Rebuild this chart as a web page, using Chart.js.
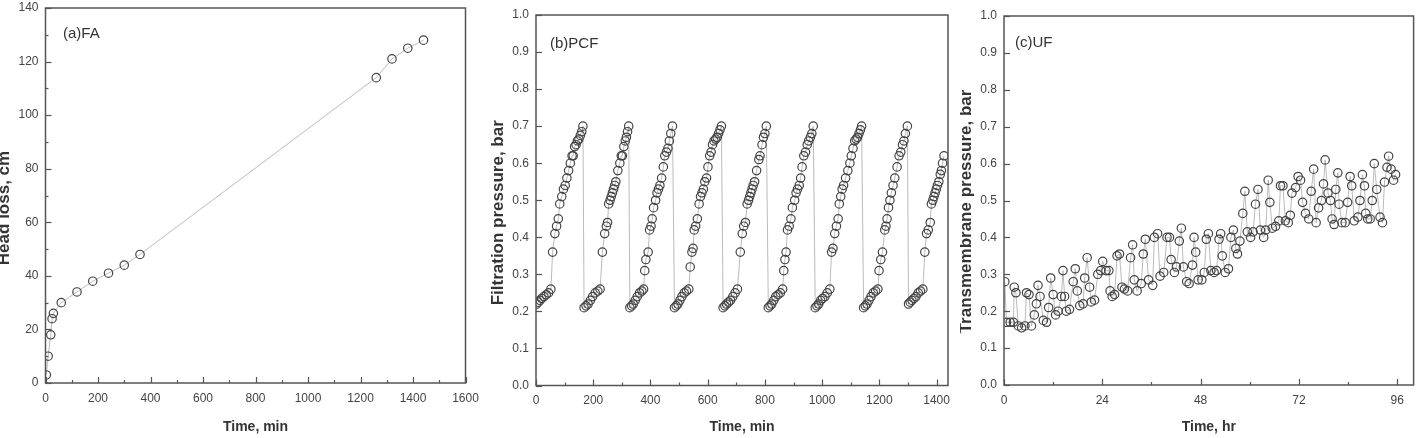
<!DOCTYPE html>
<html>
<head>
<meta charset="utf-8">
<script src="https://cdn.jsdelivr.net/npm/chart.js@4.4.1/dist/chart.umd.min.js"></script>
<style>
  html, body { margin: 0; padding: 0; background: #fff; }
  body { width: 1419px; height: 438px; position: relative; overflow: hidden; }
  .panel { position: absolute; top: 0; height: 438px; }
</style>
</head>
<body>
<div class="panel" style="left:0;width:480px"><canvas id="chartA"></canvas></div>
<div class="panel" style="left:480px;width:480px"><canvas id="chartB"></canvas></div>
<div class="panel" style="left:960px;width:459px"><canvas id="chartC"></canvas></div>
<script>
// (a) FA: head loss vs time
const faTime = [3, 10, 20, 25, 30, 60, 120, 180, 240, 300, 360, 1260, 1320, 1380, 1440];
const faHeadLoss = [3, 10, 18, 24, 26, 30, 34, 38, 41, 44, 48, 114, 121, 125, 128];

// (b) PCF: filtration pressure vs time, one row per filter run
const pcfTime = [
  2, 8, 14, 20, 28, 36, 44, 52, 58, 66, 72, 78, 83, 90, 96, 102, 108, 114, 120, 126, 130, 135, 140, 145, 150, 155, 160, 164,
  168, 175, 182, 190, 198, 207, 216, 224, 232, 240, 246, 250, 254, 259, 263, 267, 271, 275, 279, 286, 293, 298, 302, 307, 312, 316, 320, 324,
  328, 334, 340, 347, 354, 362, 370, 376, 380, 384, 392, 397, 402, 406, 411, 418, 423, 428, 433, 439, 445, 450, 456, 461, 466, 471, 477,
  484, 490, 496, 503, 510, 518, 526, 534, 539, 545, 549, 553, 558, 564, 570, 575, 580, 585, 590, 596, 601, 607, 612, 617, 622, 628, 633, 638, 643, 648,
  654, 660, 666, 673, 680, 688, 696, 704, 714, 721, 726, 732, 738, 743, 747, 751, 755, 759, 764, 771, 779, 783, 790, 795, 800, 805,
  812, 818, 824, 831, 838, 846, 854, 862, 866, 870, 874, 879, 885, 891, 896, 904, 909, 914, 920, 925, 930, 936, 942, 948, 953, 959, 964, 969,
  976, 982, 988, 995, 1002, 1010, 1018, 1027, 1033, 1038, 1044, 1050, 1056, 1060, 1065, 1070, 1075, 1082, 1090, 1097, 1102, 1108, 1114, 1119, 1124, 1129, 1134, 1138,
  1145, 1151, 1157, 1164, 1171, 1179, 1187, 1195, 1199, 1205, 1211, 1219, 1223, 1227, 1232, 1237, 1242, 1248, 1254, 1262, 1269, 1275, 1281, 1286, 1291, 1298,
  1302, 1308, 1314, 1321, 1328, 1336, 1344, 1352, 1359, 1365, 1371, 1378, 1382, 1387, 1391, 1395, 1399, 1403, 1408, 1413, 1417, 1421, 1426
];
const pcfPressure = [
  0.22, 0.225, 0.23, 0.235, 0.24, 0.245, 0.25, 0.26, 0.36, 0.41, 0.43, 0.45, 0.49, 0.51, 0.53, 0.54, 0.56, 0.58, 0.60, 0.62, 0.62, 0.645, 0.65, 0.66, 0.665, 0.675, 0.685, 0.70,
  0.21, 0.215, 0.22, 0.23, 0.24, 0.25, 0.255, 0.26, 0.36, 0.41, 0.43, 0.44, 0.49, 0.50, 0.51, 0.52, 0.53, 0.54, 0.55, 0.58, 0.60, 0.62, 0.62, 0.645, 0.66, 0.67, 0.685, 0.70,
  0.21, 0.215, 0.22, 0.23, 0.24, 0.25, 0.255, 0.26, 0.31, 0.34, 0.36, 0.42, 0.43, 0.45, 0.48, 0.50, 0.52, 0.53, 0.54, 0.56, 0.59, 0.62, 0.63, 0.64, 0.66, 0.68, 0.70,
  0.21, 0.215, 0.22, 0.23, 0.24, 0.25, 0.255, 0.26, 0.32, 0.36, 0.37, 0.42, 0.43, 0.45, 0.49, 0.51, 0.52, 0.53, 0.55, 0.56, 0.59, 0.62, 0.63, 0.65, 0.66, 0.665, 0.67, 0.68, 0.69, 0.70,
  0.21, 0.215, 0.22, 0.225, 0.23, 0.24, 0.25, 0.26, 0.36, 0.41, 0.43, 0.44, 0.49, 0.50, 0.51, 0.52, 0.53, 0.54, 0.55, 0.58, 0.61, 0.62, 0.65, 0.67, 0.68, 0.70,
  0.21, 0.215, 0.22, 0.23, 0.24, 0.245, 0.25, 0.26, 0.31, 0.34, 0.36, 0.42, 0.43, 0.45, 0.48, 0.50, 0.52, 0.53, 0.54, 0.56, 0.59, 0.62, 0.63, 0.65, 0.66, 0.67, 0.68, 0.70,
  0.21, 0.215, 0.22, 0.23, 0.235, 0.24, 0.25, 0.26, 0.36, 0.37, 0.41, 0.43, 0.45, 0.49, 0.51, 0.53, 0.54, 0.56, 0.58, 0.60, 0.62, 0.64, 0.66, 0.665, 0.67, 0.68, 0.69, 0.70,
  0.21, 0.215, 0.22, 0.23, 0.24, 0.25, 0.255, 0.26, 0.31, 0.34, 0.36, 0.42, 0.43, 0.45, 0.48, 0.50, 0.52, 0.54, 0.56, 0.59, 0.62, 0.63, 0.65, 0.66, 0.68, 0.70,
  0.22, 0.225, 0.23, 0.235, 0.24, 0.25, 0.255, 0.26, 0.36, 0.41, 0.42, 0.44, 0.49, 0.50, 0.51, 0.52, 0.53, 0.54, 0.55, 0.57, 0.58, 0.60, 0.62
];

// (c) UF: transmembrane pressure vs time
const ufTime = [
  0.2, 0.6, 1.5, 2.3, 2.5, 2.9, 3.5, 4.3, 5.1, 5.5, 6.1, 6.7, 7.4, 7.9, 8.3, 8.8, 9.6, 10.4, 10.9, 11.4,
  12.0, 12.6, 13.2, 14.0, 14.4, 14.8, 15.2, 16.0, 16.9, 17.4, 17.9, 18.5, 19.3, 19.7, 20.3, 20.9, 21.3, 22.1, 22.9, 23.6,
  24.1, 24.9, 25.6, 25.9, 26.4, 27.0, 27.6, 28.2, 28.8, 29.4, 30.2, 30.9, 31.4, 31.8, 32.5, 33.5, 34.0, 34.5, 35.3, 36.3,
  36.7, 37.5, 38.1, 39.0, 39.8, 40.4, 40.8, 41.6, 42.1, 42.8, 43.3, 43.8, 44.6, 45.2, 46.0, 46.4, 46.8, 47.4, 48.3, 48.9,
  49.4, 49.9, 50.5, 51.3, 51.9, 52.5, 52.9, 53.3, 54.0, 54.8, 55.4, 56.0, 56.6, 57.0, 57.6, 58.3, 58.8, 59.4, 60.2, 60.8,
  61.4, 62.0, 62.6, 63.4, 63.9, 64.5, 64.9, 65.5, 66.3, 67.1, 67.5, 68.1, 68.7, 69.4, 69.9, 70.3, 71.2, 71.8, 72.4, 72.9,
  73.6, 74.4, 75.0, 75.6, 76.2, 76.8, 77.5, 78.0, 78.4, 79.1, 79.7, 80.1, 80.6, 81.0, 81.5, 81.8, 82.5, 83.3, 83.9, 84.5,
  84.9, 85.5, 86.4, 86.9, 87.5, 88.0, 88.3, 88.8, 89.4, 89.9, 90.4, 91.0, 91.8, 92.4, 92.9, 93.5, 93.9, 94.5, 95.1, 95.6
];
const ufPressure = [
  0.28, 0.17, 0.17, 0.17, 0.265, 0.25, 0.16, 0.155, 0.16, 0.25, 0.245, 0.16, 0.19, 0.22, 0.27, 0.24, 0.175, 0.17, 0.21, 0.29,
  0.245, 0.19, 0.20, 0.24, 0.31, 0.24, 0.20, 0.205, 0.28, 0.315, 0.255, 0.215, 0.22, 0.29, 0.345, 0.265, 0.225, 0.23, 0.30, 0.31,
  0.335, 0.31, 0.31, 0.255, 0.24, 0.245, 0.35, 0.355, 0.265, 0.26, 0.255, 0.345, 0.38, 0.285, 0.255, 0.275, 0.355, 0.395, 0.285, 0.27,
  0.40, 0.41, 0.295, 0.305, 0.40, 0.40, 0.34, 0.305, 0.32, 0.39, 0.425, 0.32, 0.28, 0.275, 0.325, 0.40, 0.36, 0.285, 0.285, 0.305,
  0.395, 0.41, 0.31, 0.305, 0.31, 0.395, 0.41, 0.35, 0.305, 0.315, 0.40, 0.42, 0.37, 0.355, 0.39, 0.465, 0.525, 0.415, 0.40, 0.415,
  0.49, 0.53, 0.42, 0.40, 0.42, 0.555, 0.495, 0.425, 0.43, 0.445, 0.54, 0.54, 0.445, 0.44, 0.46, 0.52, 0.535, 0.565, 0.555, 0.495,
  0.465, 0.45, 0.525, 0.585, 0.44, 0.48, 0.50, 0.545, 0.61, 0.52, 0.50, 0.45, 0.435, 0.53, 0.575, 0.49, 0.44, 0.44, 0.495, 0.565,
  0.54, 0.445, 0.455, 0.50, 0.57, 0.54, 0.465, 0.45, 0.45, 0.50, 0.60, 0.53, 0.455, 0.44, 0.55, 0.59, 0.62, 0.585, 0.555, 0.57
];

// axis ticks
const faTimeTicks = [0, 200, 400, 600, 800, 1000, 1200, 1400, 1600];
const faHeadLossTicks = [0, 20, 40, 60, 80, 100, 120, 140];
const pcfTimeTicks = [0, 200, 400, 600, 800, 1000, 1200, 1400];
const ufTimeTicks = [0, 24, 48, 72, 96];
const pressureTicks = [0, 0.1, 0.2, 0.3, 0.4, 0.5, 0.6, 0.7, 0.8, 0.9, 1.0];

const FONT = "'Liberation Sans', Arial, Helvetica, sans-serif";
Chart.defaults.font.family = FONT;
Chart.defaults.color = '#444';

const toPoints = (xs, ys) => xs.map((x, i) => ({ x: x, y: ys[i] }));

// frame box, inward tick marks, y title and panel label
const frame = {
  id: 'frame',
  afterDraw(chart, args, opts) {
    const { ctx, chartArea: a, scales: { x, y } } = chart;
    ctx.save();
    ctx.strokeStyle = '#555';
    ctx.lineWidth = 1.5;
    ctx.strokeRect(a.left, a.top, a.right - a.left, a.bottom - a.top);

    ctx.lineWidth = 1.2;
    const majorX = x.ticks.map(t => t.value);
    const majorY = y.ticks.map(t => t.value);
    const mids = vals => vals.slice(1).map((v, i) => (v + vals[i]) / 2);
    const drawX = (vals, len) => vals.forEach(v => {
      const px = Math.round(x.getPixelForValue(v)) + 0.5;
      ctx.beginPath(); ctx.moveTo(px, a.bottom); ctx.lineTo(px, a.bottom - len); ctx.stroke();
    });
    const drawY = (vals, len) => vals.forEach(v => {
      const py = Math.round(y.getPixelForValue(v)) + 0.5;
      ctx.beginPath(); ctx.moveTo(a.left, py); ctx.lineTo(a.left + len, py); ctx.stroke();
    });
    drawX(majorX, 6);
    drawY(majorY, 6);
    if (opts.minorX) drawX(mids(majorX), 3);
    if (opts.minorY) drawY(mids(majorY), 3);

    ctx.fillStyle = '#333';
    ctx.font = 'bold 17px ' + FONT;
    ctx.textAlign = 'center';
    ctx.textBaseline = 'middle';
    ctx.save();
    ctx.translate(a.left - opts.titleDx, (a.top + a.bottom) / 2 + opts.titleDy);
    ctx.rotate(-Math.PI / 2);
    ctx.fillText(opts.yTitle, 0, 0);
    ctx.restore();

    ctx.font = '15px ' + FONT;
    ctx.textAlign = 'left';
    ctx.fillText(opts.label, a.left + opts.labelDx, a.top + opts.labelDy);
    ctx.restore();
  }
};

function makeChart(id, pts, cfg) {
  return new Chart(document.getElementById(id), {
    type: 'scatter',
    data: {
      datasets: [{
        data: pts,
        showLine: true,
        borderColor: '#aaaaaa',
        borderWidth: 0.8,
        pointRadius: 4.2,
        pointBorderWidth: 1.2,
        pointBorderColor: '#444',
        pointBackgroundColor: 'rgba(255,255,255,0)',
        pointHoverRadius: 4.2
      }]
    },
    options: {
      responsive: true,
      maintainAspectRatio: false,
      animation: false,
      devicePixelRatio: 1,
      layout: { padding: { top: cfg.padTop, right: cfg.padRight, bottom: 0, left: 0 } },
      plugins: {
        legend: { display: false },
        tooltip: { enabled: false },
        frame: cfg.frame
      },
      scales: {
        x: {
          type: 'linear',
          min: cfg.xMin, max: cfg.xMax,
          grid: { display: false, drawTicks: false },
          border: { display: false },
          ticks: { padding: 8, font: { size: 12 }, color: '#444', maxRotation: 0, autoSkip: false, callback: v => String(v) },
          title: { display: true, text: cfg.xTitle, color: '#333', font: { size: 14, weight: 'bold' }, padding: { top: 0, bottom: 2 } },
          afterBuildTicks: s => { s.ticks = cfg.xTicks.map(v => ({ value: v })); },
          afterFit: s => { s.height = cfg.xHeight; s.paddingLeft = 0; s.paddingRight = 0; }
        },
        y: {
          type: 'linear',
          min: cfg.yMin, max: cfg.yMax,
          grid: { display: false, drawTicks: false },
          border: { display: false },
          ticks: { padding: 7, font: { size: 12 }, color: '#444', autoSkip: false, callback: cfg.yFmt },
          afterBuildTicks: s => { s.ticks = cfg.yTicks.map(v => ({ value: v })); },
          afterFit: s => { s.width = cfg.yWidth; s.paddingTop = 0; s.paddingBottom = 0; }
        }
      }
    },
    plugins: [frame]
  });
}

makeChart('chartA', toPoints(faTime, faHeadLoss), {
  padTop: 8, padRight: 14.5, xHeight: 55, yWidth: 45.5,
  xMin: 0, xMax: 1600, yMin: 0, yMax: 140,
  xTicks: faTimeTicks, yTicks: faHeadLossTicks,
  xTitle: 'Time, min', yFmt: v => String(v),
  frame: { yTitle: 'Head loss, cm', titleDx: 41, titleDy: 12.5, label: '(a)FA', labelDx: 17.5, labelDy: 26, minorX: true, minorY: true }
});

makeChart('chartB', toPoints(pcfTime, pcfPressure), {
  padTop: 15, padRight: 12, xHeight: 52.5, yWidth: 56,
  xMin: 0, xMax: 1440, yMin: 0, yMax: 1.0,
  xTicks: pcfTimeTicks, yTicks: pressureTicks,
  xTitle: 'Time, min', yFmt: v => v.toFixed(1),
  frame: { yTitle: 'Filtration pressure, bar', titleDx: 37.5, titleDy: 12.5, label: '(b)PCF', labelDx: 14, labelDy: 28.5, minorX: true, minorY: false }
});

makeChart('chartC', toPoints(ufTime, ufPressure), {
  padTop: 16, padRight: 4, xHeight: 53, yWidth: 44,
  xMin: 0, xMax: 100, yMin: 0, yMax: 1.0,
  xTicks: ufTimeTicks, yTicks: pressureTicks,
  xTitle: 'Time, hr', yFmt: v => v.toFixed(1),
  frame: { yTitle: 'Transmembrane pressure, bar', titleDx: 38, titleDy: 11, label: '(c)UF', labelDx: 11, labelDy: 26.5, minorX: true, minorY: false }
});
</script>
</body>
</html>
